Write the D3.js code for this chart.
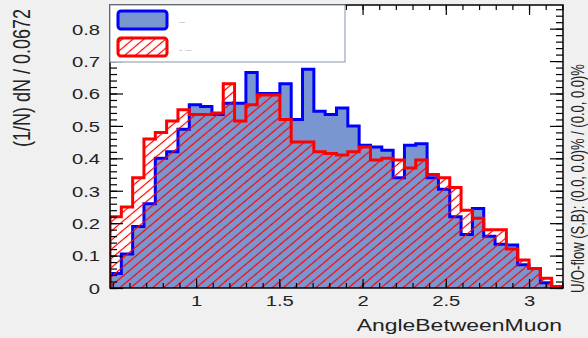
<!DOCTYPE html>
<html>
<head>
<meta charset="utf-8">
<script src="https://cdn.jsdelivr.net/npm/d3@7"></script>
<style>
body { margin: 0; background: #f0f0f0; }
text { font-family: 'Liberation Sans', Arial, sans-serif; fill: #222; }
</style>
</head>
<body>
<div id="chart"></div>
<script>
// histogram contents, one value per bin (40 bins)
var sigValues = [0.045, 0.105, 0.19, 0.26, 0.40, 0.42, 0.49, 0.565, 0.56, 0.535,
                 0.57, 0.57, 0.665, 0.60, 0.60, 0.63, 0.52, 0.675, 0.545, 0.535,
                 0.555, 0.50, 0.44, 0.435, 0.425, 0.34, 0.44, 0.445, 0.34, 0.305,
                 0.22, 0.165, 0.245, 0.16, 0.135, 0.133, 0.072, 0.06, 0.016, 0];
var bkgValues = [0.22, 0.25, 0.34, 0.46, 0.48, 0.515, 0.55, 0.535, 0.535, 0.54,
                 0.63, 0.515, 0.565, 0.595, 0.595, 0.52, 0.45, 0.45, 0.42, 0.415,
                 0.41, 0.42, 0.435, 0.395, 0.40, 0.395, 0.37, 0.395, 0.35, 0.34,
                 0.31, 0.24, 0.215, 0.18, 0.18, 0.12, 0.086, 0.06, 0.03, 0.005];
var xTicks = [1, 1.5, 2, 2.5, 3];
var yTicks = [0, 0.1, 0.2, 0.3, 0.4, 0.5, 0.6, 0.7, 0.8];
var xMin = 0.483, xMax = 3.204, yMax = 0.873;
var xTitle = 'AngleBetweenMuon';
var yTitle = '(1/N) dN / 0.0672';
var flowText = 'U/O-flow (S,B): (0.0, 0.0)% / (0.0, 0.0)%';
var legendLabels = ['\u2013', '- \u2013'];

var width = 588,
    height = 338;
var margin = {left: 110, right: 25, top: 5, bottom: 50};
var stretch = 1.35; // text in the picture is wider than tall

var svg = d3.select('#chart')
    .append('svg')
    .attr('width', width)
    .attr('height', height);

var x = d3.scaleLinear().domain([xMin, xMax]).range([margin.left, width - margin.right]);
var y = d3.scaleLinear().domain([0, yMax]).range([height - margin.bottom, margin.top]);

var defs = svg.append('defs');
defs.append('clipPath').attr('id', 'plot-clip')
    .append('rect')
    .attr('x', x.range()[0]).attr('y', y.range()[1])
    .attr('width', x.range()[1] - x.range()[0])
    .attr('height', y.range()[0] - y.range()[1]);

defs.append('pattern')
    .attr('id', 'hatch')
    .attr('patternUnits', 'userSpaceOnUse')
    .attr('width', 7).attr('height', 7)
    .attr('patternTransform', 'rotate(-40)')
    .append('line')
    .attr('x1', 0).attr('y1', 3.5).attr('x2', 7).attr('y2', 3.5)
    .attr('stroke', '#ff0000').attr('stroke-width', 1.2);

// plot area
svg.append('rect')
    .attr('x', x.range()[0]).attr('y', y.range()[1])
    .attr('width', x.range()[1] - x.range()[0])
    .attr('height', y.range()[0] - y.range()[1])
    .attr('fill', '#fff');

var binW = (xMax - xMin) / sigValues.length;

function stepPoints(values) {
    var pts = [[xMin, 0]];
    values.forEach((v, i) => {
        pts.push([xMin + i * binW, v]);
        pts.push([xMin + (i + 1) * binW, v]);
    });
    pts.push([xMin + values.length * binW, 0]);
    return pts;
}

var line = d3.line().x(d => x(d[0])).y(d => y(d[1]));

var hist = svg.append('g').attr('clip-path', 'url(#plot-clip)');

hist.append('path')
    .attr('d', line(stepPoints(sigValues)))
    .attr('fill', '#7a96d0')
    .attr('stroke', '#0000ff')
    .attr('stroke-width', 3)
    .attr('stroke-linejoin', 'miter');

hist.append('path')
    .attr('d', line(stepPoints(bkgValues)))
    .attr('fill', 'url(#hatch)')
    .attr('stroke', '#ff0000')
    .attr('stroke-width', 3)
    .attr('stroke-linejoin', 'miter');

// axes, ticks drawn inward like ROOT
var xMinor = d3.range(5, 33).map(i => i / 10);
var yMinor = d3.range(44).map(i => i / 50);

function styleAxis(g) {
    g.select('.domain').remove();
    g.selectAll('line').attr('stroke', '#000').attr('stroke-width', 1.2);
}

svg.append('g')
    .attr('transform', 'translate(0,' + y.range()[0] + ')')
    .call(d3.axisBottom(x).tickValues(xMinor).tickSize(-5).tickFormat(''))
    .call(styleAxis);

var xAxis = svg.append('g')
    .attr('transform', 'translate(0,' + y.range()[0] + ')')
    .call(d3.axisBottom(x).tickValues(xTicks).tickSize(-9).tickPadding(7).tickFormat(d3.format('~g')))
    .call(styleAxis);
xAxis.selectAll('text')
    .attr('font-size', 15)
    .attr('fill', '#222')
    .attr('transform', 'scale(' + stretch + ',1)');

svg.append('g')
    .attr('transform', 'translate(0,' + y.range()[1] + ')')
    .call(d3.axisTop(x).tickValues(xMinor).tickSize(-5).tickFormat(''))
    .call(styleAxis);
svg.append('g')
    .attr('transform', 'translate(0,' + y.range()[1] + ')')
    .call(d3.axisTop(x).tickValues(xTicks).tickSize(-10).tickFormat(''))
    .call(styleAxis);

svg.append('g')
    .attr('transform', 'translate(' + x.range()[0] + ',0)')
    .call(d3.axisLeft(y).tickValues(yMinor).tickSize(-7).tickFormat(''))
    .call(styleAxis);

var yAxis = svg.append('g')
    .attr('transform', 'translate(' + x.range()[0] + ',0)')
    .call(d3.axisLeft(y).tickValues(yTicks).tickSize(-13)
        .tickFormat(d => d === 0 ? '0' : d3.format('.1f')(d)))
    .call(styleAxis);
yAxis.selectAll('text')
    .attr('font-size', 15)
    .attr('fill', '#222')
    .attr('x', -10 / stretch)
    .attr('dy', '0.36em')
    .attr('transform', 'scale(' + stretch + ',1)');

svg.append('g')
    .attr('transform', 'translate(' + x.range()[1] + ',0)')
    .call(d3.axisRight(y).tickValues(yMinor).tickSize(-7).tickFormat(''))
    .call(styleAxis);
svg.append('g')
    .attr('transform', 'translate(' + x.range()[1] + ',0)')
    .call(d3.axisRight(y).tickValues(yTicks).tickSize(-13).tickFormat(''))
    .call(styleAxis);

// frame
svg.append('rect')
    .attr('x', x.range()[0]).attr('y', y.range()[1])
    .attr('width', x.range()[1] - x.range()[0])
    .attr('height', y.range()[0] - y.range()[1])
    .attr('fill', 'none')
    .attr('stroke', '#000')
    .attr('stroke-width', 1.5);

// legend
var legend = svg.append('g');
legend.append('rect')
    .attr('x', x.range()[0]).attr('y', y.range()[1])
    .attr('width', 235).attr('height', 57)
    .attr('fill', '#fff')
    .attr('stroke', '#8595a8')
    .attr('stroke-width', 1);

var legendStyles = [
    {fill: '#7a96d0', stroke: '#0000ff'},
    {fill: 'url(#hatch)', stroke: '#ff0000'}
];
legendStyles.forEach((s, i) => {
    legend.append('rect')
        .attr('x', 118).attr('y', 11 + i * 27)
        .attr('width', 49).attr('height', 18)
        .attr('rx', 3)
        .attr('fill', s.fill)
        .attr('stroke', s.stroke)
        .attr('stroke-width', 3);
    legend.append('text')
        .attr('transform', 'translate(179,' + (24 + i * 28) + ') scale(' + stretch + ',1)')
        .attr('font-size', 8)
        .style('fill', '#aaa')
        .text(legendLabels[i]);
});

// titles
svg.append('text')
    .attr('transform', 'translate(' + (width - margin.right - 1) + ',331) scale(' + stretch + ',1)')
    .attr('text-anchor', 'end')
    .attr('font-size', 17)
    .text(xTitle);

svg.append('text')
    .attr('transform', 'translate(30,9) scale(' + stretch + ',1) rotate(-90)')
    .attr('text-anchor', 'end')
    .attr('font-size', 18)
    .text(yTitle);

svg.append('text')
    .attr('transform', 'translate(584,293) scale(' + stretch + ',1) rotate(-90)')
    .attr('text-anchor', 'start')
    .attr('font-size', 13)
    .text(flowText);
</script>
</body>
</html>
